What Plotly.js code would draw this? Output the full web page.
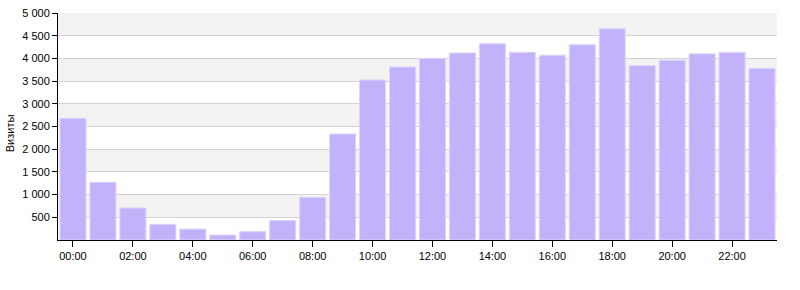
<!DOCTYPE html>
<html>
<head>
<meta charset="utf-8">
<script src="https://cdn.plot.ly/plotly-3.0.1.min.js"></script>
<style>html,body{margin:0;padding:0;background:#fff;}#chart{width:800px;height:290px;}</style>
</head>
<body>
<div id="chart"></div>
<script>
const hours = ["00:00","01:00","02:00","03:00","04:00","05:00","06:00","07:00","08:00","09:00","10:00","11:00",
               "12:00","13:00","14:00","15:00","16:00","17:00","18:00","19:00","20:00","21:00","22:00","23:00"];
const visits = [2680, 1270, 705, 345, 240, 110, 185, 430, 940, 2335, 3525, 3810,
                4000, 4120, 4325, 4135, 4070, 4300, 4655, 3840, 3960, 4100, 4135, 3780];
const xTickLabels = ["00:00","02:00","04:00","06:00","08:00","10:00","12:00","14:00","16:00","18:00","20:00","22:00"];
const yTicks = [500, 1000, 1500, 2000, 2500, 3000, 3500, 4000, 4500, 5000];
const yTitle = "Визиты";

const bands = [];
for (let i = 0; i + 1 < yTicks.length; i += 2) {
  bands.push({type:'rect', xref:'paper', yref:'y', x0:0, x1:1, y0:yTicks[i], y1:yTicks[i+1],
    fillcolor:'#f3f3f3', line:{width:0}, layer:'below'});
}

const trace = {
  type:'bar', x:hours, y:visits,
  marker:{color:'#c3b2fa', line:{color:'#ddd4fc', width:1}},
  hoverinfo:'none'
};

const layout = {
  width:800, height:290,
  margin:{l:58, r:23, t:13, b:50},
  paper_bgcolor:'#fff', plot_bgcolor:'rgba(0,0,0,0)',
  separators:', ',
  font:{family:'"Liberation Sans", Arial, sans-serif', size:11, color:'#000'},
  bargap:0.13,
  showlegend:false,
  shapes:bands,
  annotations:[{text:yTitle, textangle:-90, xref:'paper', yref:'paper',
    x:-0.0668, y:0.47, xanchor:'center', yanchor:'middle', showarrow:false,
    font:{size:11, color:'#000'}}],
  xaxis:{type:'category', categoryorder:'array', categoryarray:hours,
    range:[-0.5, 23.5], tickmode:'array', tickvals:xTickLabels, ticktext:xTickLabels,
    ticks:'outside', ticklen:6, tickcolor:'#000', showline:true, linecolor:'#000', linewidth:1,
    showgrid:false, zeroline:false, tickfont:{size:11}},
  yaxis:{range:[0,5000], tickmode:'array', tickvals:yTicks, tickformat:',d',
    ticks:'outside', ticklen:5, tickcolor:'#000', showline:true, linecolor:'#000', linewidth:1,
    showgrid:true, gridcolor:'#d3d3d3', gridwidth:1, zeroline:false, tickfont:{size:11}}
};

Plotly.newPlot('chart', [trace], layout, {staticPlot:true, displayModeBar:false});
</script>
</body>
</html>
